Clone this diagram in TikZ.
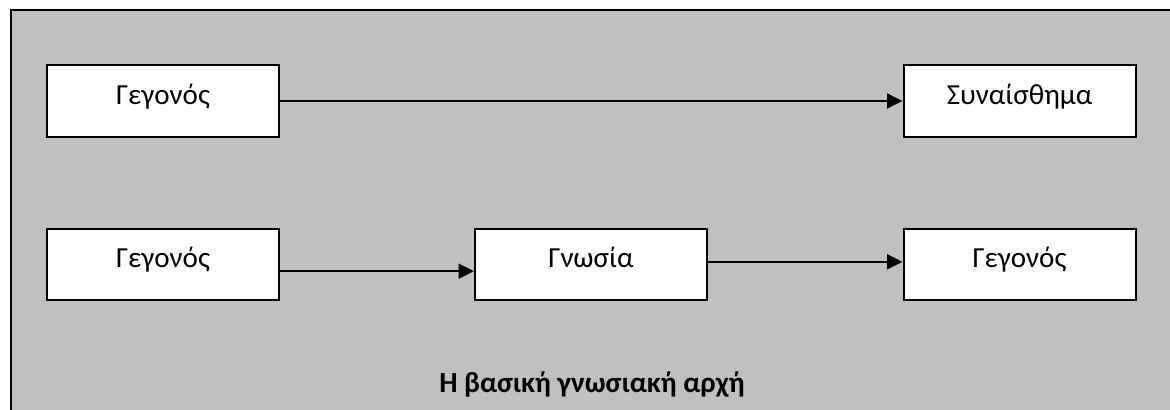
\documentclass[tikz,border=0pt]{standalone}
\usepackage{fontspec}
\setmainfont{Carlito}
\usetikzlibrary{arrows.meta}
\definecolor{framegray}{RGB}{192,192,192}
\begin{document}
\begin{tikzpicture}[x=0.75pt,y=-0.75pt,
  box/.style={draw=black,line width=1.5pt,fill=white,minimum width=232*0.75pt,minimum height=71*0.75pt,inner sep=0pt,text height=4.8pt,text depth=0pt,font=\fontsize{21.8}{26}\selectfont},
  arr/.style={line width=1.8pt,-{Triangle[length=11.5pt,width=11pt]}}]
\useasboundingbox (0,0) rectangle (1170,410);
\draw[fill=framegray,line width=2pt] (11,420) -- (11,10) -- (1180,10) -- (1180,420) -- cycle;
\node[box] (a) at (163,101) {Γεγονός};
\node[box] (b) at (1019.5,101) {Συναίσθημα};
\node[box] (c) at (163,264.5) {Γεγονός};
\node[box] (d) at (591,264.5) {Γνωσία};
\node[box] (e) at (1019.5,264.5) {Γεγονός};
\draw[arr] (a) -- (b);
\draw[arr] ([yshift=-5pt]c.east) -- ([yshift=-5pt]d.west);
\draw[arr] ([yshift=2pt]d.east) -- ([yshift=2pt]e.west);
\node[font=\fontsize{21.8}{26}\selectfont\bfseries,anchor=base] (cap) at (592,392) {Η βασική γνωσιακή αρχή};
\end{tikzpicture}
\end{document}
